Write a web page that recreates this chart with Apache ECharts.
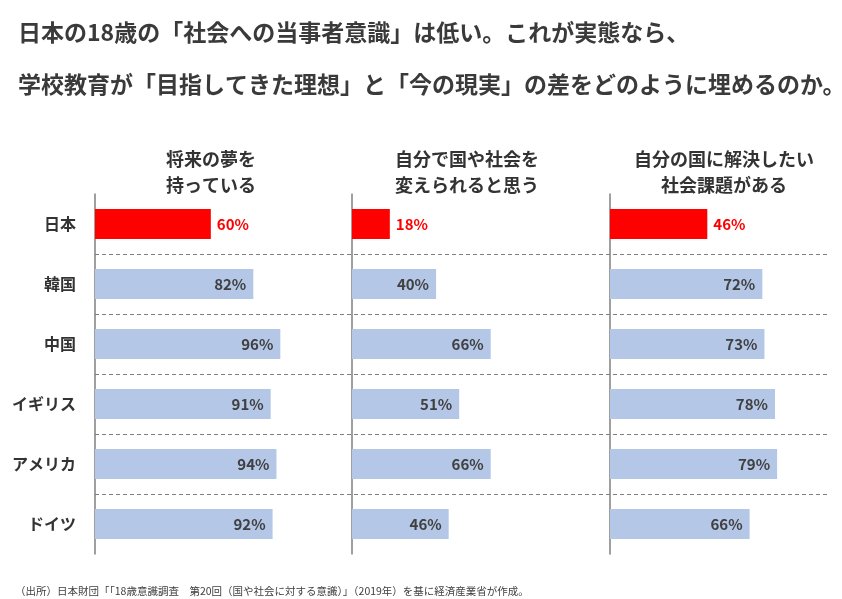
<!DOCTYPE html>
<html>
<head>
<meta charset="utf-8">
<script src="https://cdn.jsdelivr.net/npm/echarts@6/dist/echarts.min.js"></script>
<style>
    html, body { margin: 0; padding: 0; background: #fff; }
    #main { width: 842px; height: 599px; }
</style>
</head>
<body>
<div id="main"></div>
<script>
// 国名（上から順）
var countries = ['日本', '韓国', '中国', 'イギリス', 'アメリカ', 'ドイツ'];
var panelTitles = ['将来の夢を\n持っている', '自分で国や社会を\n変えられると思う', '自分の国に解決したい\n社会課題がある'];
// 各設問の回答率（%）
var dreamValues = [60, 82, 96, 91, 94, 92];
var changeValues = [18, 40, 66, 51, 66, 46];
var issueValues = [46, 72, 73, 78, 79, 66];

var FONT = '"Noto Sans CJK JP", "Noto Sans", sans-serif';
var BLUE = '#b4c7e7';
var RED = '#ff0000';

function buildData(values) {
    return values.map(function (v, i) {
        if (i === 0) {
            return {
                value: v,
                itemStyle: { color: RED },
                label: { position: 'right', distance: 6, color: RED }
            };
        }
        return { value: v };
    });
}

var chart = echarts.init(document.getElementById('main'));

var panels = [
    { left: 95, width: 250, max: 129.5, center: 206, values: dreamValues },
    { left: 352, width: 248, max: 118, center: 462, values: changeValues },
    { left: 610, width: 220, max: 104, center: 719, values: issueValues }
];

var grids = [{ left: 95, right: 13, top: 194, height: 360 }];
var xAxes = [{ gridIndex: 0, type: 'value', show: false }];
var yAxes = [{
    gridIndex: 0,
    type: 'category',
    inverse: true,
    data: countries,
    axisLine: { show: false },
    axisTick: { show: false },
    axisLabel: { show: false },
    splitLine: {
        show: true,
        showMinLine: false,
        showMaxLine: false,
        lineStyle: { color: '#808080', width: 1, type: [4, 3] }
    }
}];
var series = [];
var titles = [{
    text: '日本の18歳の「社会への当事者意識」は低い。これが実態なら、\n学校教育が「目指してきた理想」と「今の現実」の差をどのように埋めるのか。',
    left: 13,
    top: 1,
    textStyle: { fontFamily: FONT, fontSize: 23, fontWeight: 'bold', color: '#3a3a3a', lineHeight: 52 }
}, {
    text: '（出所）日本財団「「18歳意識調査　第20回（国や社会に対する意識）」（2019年）を基に経済産業省が作成。',
    left: 10,
    top: 581,
    textStyle: { fontFamily: FONT, fontSize: 10.5, fontWeight: 'normal', color: '#404040' }
}];

panels.forEach(function (p, k) {
    var gi = k + 1;
    grids.push({ left: p.left, width: p.width, top: 194, height: 360 });
    xAxes.push({ gridIndex: gi, type: 'value', min: 0, max: p.max, show: false });
    yAxes.push({
        gridIndex: gi,
        type: 'category',
        inverse: true,
        data: countries,
        axisLine: { show: true, lineStyle: { color: '#7f7f7f', width: 1.5 } },
        axisTick: { show: false },
        axisLabel: {
            show: k === 0,
            margin: 19,
            fontFamily: FONT,
            fontSize: 16,
            fontWeight: 'bold',
            color: '#333'
        },
        splitLine: { show: false }
    });
    series.push({
        type: 'bar',
        xAxisIndex: gi,
        yAxisIndex: gi,
        barWidth: 30,
        itemStyle: { color: BLUE },
        label: {
            show: true,
            position: 'insideRight',
            distance: 7,
            formatter: '{c}%',
            fontFamily: FONT,
            fontSize: 15,
            fontWeight: 'bold',
            color: '#404040'
        },
        silent: true,
        data: buildData(p.values)
    });
    titles.push({
        text: panelTitles[k],
        left: p.center,
        top: 141,
        textAlign: 'center',
        textStyle: { fontFamily: FONT, fontSize: 18, fontWeight: 'bold', color: '#333', lineHeight: 26 }
    });
});

chart.setOption({
    animation: false,
    title: titles,
    grid: grids,
    xAxis: xAxes,
    yAxis: yAxes,
    series: series
});
</script>
</body>
</html>
